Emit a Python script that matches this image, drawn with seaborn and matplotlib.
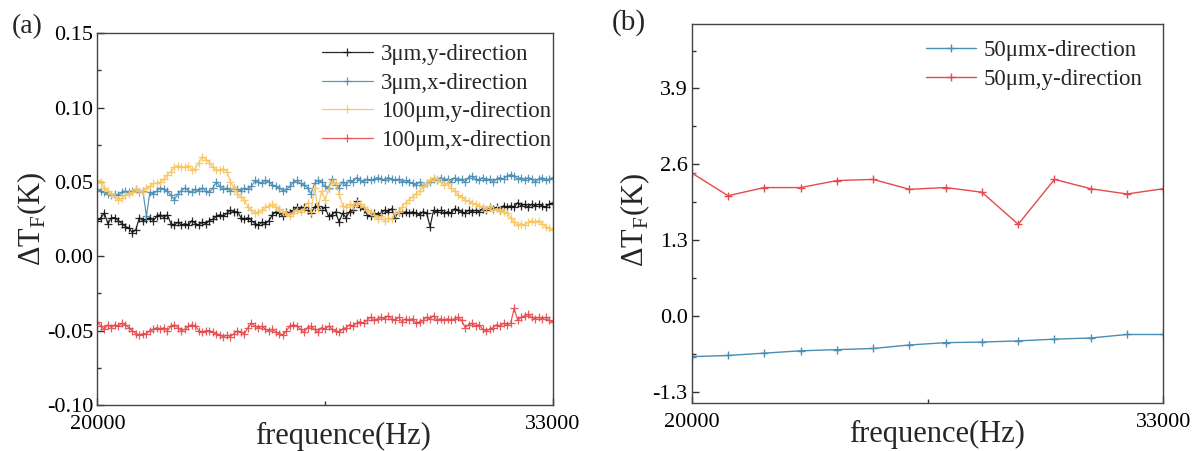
import numpy as np
import matplotlib
matplotlib.use('Agg')
import matplotlib.pyplot as plt
import seaborn as sns
from matplotlib.ticker import MultipleLocator, FormatStrFormatter

# --- data ---
# panel (a): sweep 20000-33000 Hz in 100 Hz steps
freq_a = np.arange(20000, 33001, 100)

y3_ydir = [0.024, 0.026, 0.029, 0.022, 0.026, 0.026, 0.024, 0.022, 0.020, 0.019,
           0.016, 0.018, 0.026, 0.024, 0.025, 0.026, 0.024, 0.027, 0.028, 0.026,
           0.028, 0.022, 0.021, 0.023, 0.021, 0.022, 0.021, 0.024, 0.022, 0.021,
           0.023, 0.022, 0.024, 0.025, 0.027, 0.028, 0.027, 0.029, 0.031, 0.030,
           0.030, 0.026, 0.025, 0.026, 0.024, 0.022, 0.021, 0.023, 0.022, 0.024,
           0.028, 0.030, 0.029, 0.027, 0.030, 0.029, 0.031, 0.033, 0.032, 0.033,
           0.031, 0.029, 0.033, 0.034, 0.031, 0.033, 0.027, 0.028, 0.030, 0.023,
           0.029, 0.026, 0.030, 0.031, 0.037, 0.033, 0.032, 0.028, 0.027, 0.029,
           0.028, 0.029, 0.031, 0.030, 0.032, 0.026, 0.030, 0.029, 0.030, 0.029,
           0.030, 0.029, 0.028, 0.030, 0.029, 0.020, 0.031, 0.030, 0.031, 0.029,
           0.030, 0.029, 0.032, 0.031, 0.030, 0.029, 0.031, 0.030, 0.031, 0.030,
           0.032, 0.031, 0.033, 0.032, 0.033, 0.031, 0.034, 0.033, 0.034, 0.033,
           0.036, 0.034, 0.035, 0.033, 0.035, 0.034, 0.035, 0.034, 0.033, 0.035,
           0.036]

y3_xdir = [0.045, 0.044, 0.043, 0.042, 0.041, 0.042, 0.041, 0.043, 0.044, 0.043,
           0.044, 0.045, 0.043, 0.044, 0.027, 0.043, 0.042, 0.044, 0.046, 0.045,
           0.044, 0.041, 0.038, 0.042, 0.044, 0.046, 0.044, 0.043, 0.045, 0.044,
           0.046, 0.044, 0.043, 0.046, 0.050, 0.047, 0.045, 0.046, 0.044, 0.046,
           0.045, 0.044, 0.046, 0.045, 0.047, 0.051, 0.050, 0.049, 0.051, 0.050,
           0.048, 0.047, 0.046, 0.044, 0.045, 0.047, 0.050, 0.051, 0.049, 0.048,
           0.046, 0.042, 0.049, 0.051, 0.050, 0.047, 0.046, 0.052, 0.048, 0.046,
           0.050, 0.048, 0.051, 0.050, 0.053, 0.051, 0.050, 0.052, 0.051, 0.052,
           0.053, 0.052, 0.051, 0.053, 0.052, 0.051, 0.052, 0.050, 0.051, 0.050,
           0.049, 0.048, 0.050, 0.047, 0.049, 0.050, 0.052, 0.051, 0.053, 0.051,
           0.052, 0.050, 0.053, 0.051, 0.052, 0.050, 0.053, 0.054, 0.052, 0.051,
           0.053, 0.051, 0.052, 0.050, 0.052, 0.053, 0.052, 0.054, 0.055, 0.054,
           0.052, 0.053, 0.051, 0.053, 0.052, 0.050, 0.052, 0.053, 0.051, 0.052,
           0.053]

y100_ydir = [0.051, 0.050, 0.046, 0.044, 0.042, 0.040, 0.038, 0.039, 0.041, 0.042,
             0.043, 0.045, 0.044, 0.043, 0.046, 0.047, 0.049, 0.049, 0.050, 0.052,
             0.055, 0.057, 0.060, 0.061, 0.060, 0.060, 0.061, 0.058, 0.059, 0.063,
             0.067, 0.065, 0.063, 0.060, 0.058, 0.058, 0.059, 0.057, 0.050, 0.046,
             0.042, 0.040, 0.038, 0.033, 0.031, 0.029, 0.030, 0.031, 0.033, 0.034,
             0.035, 0.033, 0.032, 0.030, 0.029, 0.027, 0.029, 0.031, 0.030, 0.032,
             0.036, 0.030, 0.046, 0.032, 0.044, 0.038, 0.045, 0.050, 0.049, 0.042,
             0.034, 0.033, 0.035, 0.034, 0.036, 0.035, 0.033, 0.031, 0.030, 0.028,
             0.025, 0.027, 0.024, 0.026, 0.025, 0.029, 0.030, 0.033, 0.036, 0.038,
             0.040, 0.042, 0.044, 0.047, 0.049, 0.051, 0.053, 0.052, 0.050, 0.048,
             0.049, 0.046, 0.044, 0.041, 0.040, 0.038, 0.037, 0.036, 0.035, 0.034,
             0.033, 0.032, 0.033, 0.031, 0.032, 0.031, 0.030, 0.029, 0.026, 0.023,
             0.021, 0.022, 0.021, 0.023, 0.024, 0.023, 0.024, 0.022, 0.020, 0.019,
             0.018]

y100_xdir = [-0.044, -0.047, -0.049, -0.046, -0.048, -0.046, -0.047, -0.045, -0.046, -0.048,
             -0.050, -0.052, -0.053, -0.052, -0.052, -0.050, -0.049, -0.048, -0.049, -0.048,
             -0.050, -0.047, -0.046, -0.048, -0.050, -0.049, -0.047, -0.046, -0.047, -0.050,
             -0.051, -0.050, -0.050, -0.051, -0.052, -0.053, -0.054, -0.053, -0.054, -0.052,
             -0.050, -0.051, -0.052, -0.048, -0.045, -0.047, -0.048, -0.047, -0.049, -0.050,
             -0.049, -0.051, -0.052, -0.053, -0.050, -0.047, -0.046, -0.047, -0.049, -0.051,
             -0.048, -0.047, -0.049, -0.051, -0.048, -0.049, -0.047, -0.049, -0.050, -0.051,
             -0.049, -0.048, -0.046, -0.047, -0.045, -0.044, -0.045, -0.043, -0.041, -0.043,
             -0.042, -0.041, -0.042, -0.040, -0.042, -0.043, -0.041, -0.044, -0.042, -0.043,
             -0.042, -0.045, -0.044, -0.043, -0.041, -0.042, -0.040, -0.043, -0.042, -0.043,
             -0.042, -0.043, -0.042, -0.041, -0.043, -0.048, -0.046, -0.045, -0.047, -0.046,
             -0.049, -0.050, -0.049, -0.048, -0.046, -0.047, -0.045, -0.046, -0.045, -0.035,
             -0.043, -0.041, -0.040, -0.039, -0.041, -0.042, -0.041, -0.042, -0.041, -0.043,
             -0.044]

# panel (b): 1000 Hz steps
freq_b = [20000, 21000, 22000, 23000, 24000, 25000, 26000,
          27000, 28000, 29000, 30000, 31000, 32000, 33000]
y50_xdir = [-0.70, -0.68, -0.64, -0.60, -0.58, -0.56, -0.50,
            -0.46, -0.45, -0.43, -0.40, -0.38, -0.32, -0.32]
y50_ydir = [2.45, 2.06, 2.20, 2.20, 2.32, 2.34, 2.17,
            2.20, 2.12, 1.57, 2.34, 2.18, 2.09, 2.18]

labels_a = ['3\u03bcm,y-direction', '3\u03bcm,x-direction',
            '100\u03bcm,y-direction', '100\u03bcm,x-direction']
colors_a = ['#111111', '#4a8db5', '#f8c560', '#e5494c']
labels_b = ['50\u03bcmx-direction', '50\u03bcm,y-direction']
colors_b = ['#4a8db5', '#e5494c']

# --- style ---
sns.set_theme(style='ticks')
plt.rcParams['font.family'] = ['Liberation Serif', 'DejaVu Serif']
plt.rcParams['mathtext.fontset'] = 'custom'
plt.rcParams['mathtext.rm'] = 'Liberation Serif'
plt.rcParams['axes.unicode_minus'] = False

fig = plt.figure(figsize=(12.02, 4.51), dpi=100)
ax1 = fig.add_axes([0.0810, 0.1020, 0.3788, 0.8242])
ax2 = fig.add_axes([0.5755, 0.1058, 0.3923, 0.8403])

for ys, lab, c in zip([y3_ydir, y3_xdir, y100_ydir, y100_xdir], labels_a, colors_a):
    sns.lineplot(x=freq_a, y=ys, ax=ax1, color=c, label=lab, marker='+',
                 markersize=5.5, markeredgewidth=0.9, markeredgecolor=c,
                 linewidth=0.9, alpha=0.9)

for ys, lab, c in zip([y50_xdir, y50_ydir], labels_b, colors_b):
    sns.lineplot(x=freq_b, y=ys, ax=ax2, color=c, label=lab, marker='+',
                 markersize=6, markeredgewidth=1, markeredgecolor=c,
                 linewidth=1)

ax1.set_ylim(-0.10, 0.15)
ax1.yaxis.set_major_locator(MultipleLocator(0.05))
ax1.yaxis.set_minor_locator(MultipleLocator(0.025))
ax1.yaxis.set_major_formatter(FormatStrFormatter('%.2f'))

ax2.set_ylim(-1.5, 5.0)
ax2.set_yticks([-1.3, 0.0, 1.3, 2.6, 3.9])
ax2.set_yticks([-0.65, 0.65, 1.95, 3.25, 4.55], minor=True)
ax2.yaxis.set_major_formatter(FormatStrFormatter('%.1f'))

for ax in (ax1, ax2):
    ax.set_xlim(20000, 33000)
    ax.set_xticks([20000, 33000])
    ax.set_xticks([26500], minor=True)
    ax.xaxis.set_major_formatter(FormatStrFormatter('%d'))
    ax.tick_params(axis='both', which='both', direction='in', colors='#333333',
                   labelcolor='black')
    ax.tick_params(axis='both', which='major', length=5, width=1)
    ax.tick_params(axis='both', which='minor', length=3, width=1)
    ax.tick_params(axis='y', labelsize=16, pad=3)
    ax.tick_params(axis='x', labelsize=16, pad=7)
    for s in ax.spines.values():
        s.set_color('#444444')
        s.set_linewidth(1.0)
    ax.set_xlabel('frequence(Hz)', fontsize=22)
    ax.set_ylabel(r'$\Delta$T$_{\mathrm{F}}$(K)', fontsize=22)

ax1.xaxis.set_label_coords(0.54, -0.045)
ax1.yaxis.set_label_coords(-0.106, 0.5)
ax2.xaxis.set_label_coords(0.52, -0.044)
ax2.yaxis.set_label_coords(-0.085, 0.484)

ax1.legend(loc='upper left', bbox_to_anchor=(0.268, 0.902), bbox_transform=fig.transFigure,
           frameon=False, fontsize=16.5, handlelength=2.2, handletextpad=0.35,
           labelspacing=0.33, borderpad=0, borderaxespad=0)
ax2.legend(loc='upper left', bbox_to_anchor=(0.770, 0.911), bbox_transform=fig.transFigure,
           frameon=False, fontsize=16.5, handlelength=2.2, handletextpad=0.35,
           labelspacing=0.33, borderpad=0, borderaxespad=0)

fig.text(12 / 1202, 1 - 33 / 451, '(a)', fontsize=20, ha='left', va='baseline')
fig.text(612 / 1202, 1 - 30 / 451, '(b)', fontsize=21, ha='left', va='baseline')

fig.savefig('out.png', dpi=100)
